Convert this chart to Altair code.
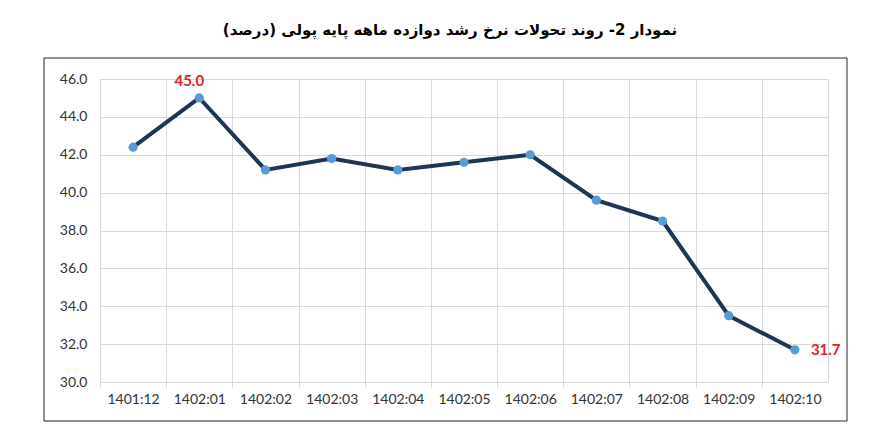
import altair as alt
import pandas as pd

months = ["1401:12", "1402:01", "1402:02", "1402:03", "1402:04", "1402:05",
          "1402:06", "1402:07", "1402:08", "1402:09", "1402:10"]
values = [42.4, 45.0, 41.2, 41.8, 41.2, 41.6, 42.0, 39.6, 38.5, 33.5, 31.7]
y_ticks = [30, 32, 34, 36, 38, 40, 42, 44, 46]
peak_month = "1402:01"
last_month = "1402:10"
title_text = "نمودار 2- روند تحولات نرخ رشد دوازده ماهه پایه پولی (درصد)"

df = pd.DataFrame({"month": months, "value": values})

W, H = 728, 303
half_step = W / len(months) / 2

grid_c = "#d9d9d9"
lab_c = "#333333"
num_font = "Lato"

x_enc = alt.X(
    "month:O", sort=months,
    scale=alt.Scale(type="point", padding=0.5),
    axis=alt.Axis(title=None, labelAngle=0, grid=True, gridColor=grid_c,
                  tickColor=grid_c, tickSize=5, domainColor=grid_c,
                  tickOffset=-half_step, labelOffset=half_step,
                  labelFont=num_font, labelFontSize=14, labelColor=lab_c,
                  labelPadding=5, labelOverlap=False, labelFlush=False),
)
y_enc = alt.Y(
    "value:Q",
    scale=alt.Scale(domain=[30, 46], nice=False, zero=False),
    axis=alt.Axis(title=None, values=y_ticks, format=".1f", grid=True,
                  gridColor=grid_c, ticks=False, domainColor=grid_c,
                  labelFont=num_font, labelFontSize=14, labelColor=lab_c,
                  labelPadding=13),
)

base = alt.Chart(df).encode(x=x_enc, y=y_enc)

line = base.mark_line(color="#1f3554", strokeWidth=4)
pts = base.mark_circle(color="#5b9bd5", size=85, opacity=1)

red = "#d9262b"
lab_peak = base.transform_filter(alt.datum.month == peak_month).mark_text(
    color=red, font=num_font, fontSize=15, fontWeight="bold", dx=-10, dy=-17
).encode(text=alt.Text("value:Q", format=".1f"))
lab_last = base.transform_filter(alt.datum.month == last_month).mark_text(
    color=red, font=num_font, fontSize=15, fontWeight="bold", align="left", dx=16
).encode(text=alt.Text("value:Q", format=".1f"))

border = alt.Chart(alt.Data(values=[{}])).mark_rect(
    filled=False, stroke="#262626", strokeWidth=1
).encode(x=alt.value(-56), x2=alt.value(747), y=alt.value(-21), y2=alt.value(342))

chart = alt.layer(border, line, pts, lab_peak, lab_last).properties(
    width=W, height=H,
    autosize=alt.AutoSizeParams(type="none"),
    padding={"left": 92, "top": 71, "right": 40, "bottom": 40},
    title=alt.TitleParams(title_text, font="DejaVu Sans", fontSize=15,
                          fontWeight="bold", color="#000000", anchor="middle",
                          dx=-14, offset=20),
).configure_view(stroke=grid_c, strokeWidth=1)

chart.save("out.html", embed_options={"renderer": "svg", "actions": False})
